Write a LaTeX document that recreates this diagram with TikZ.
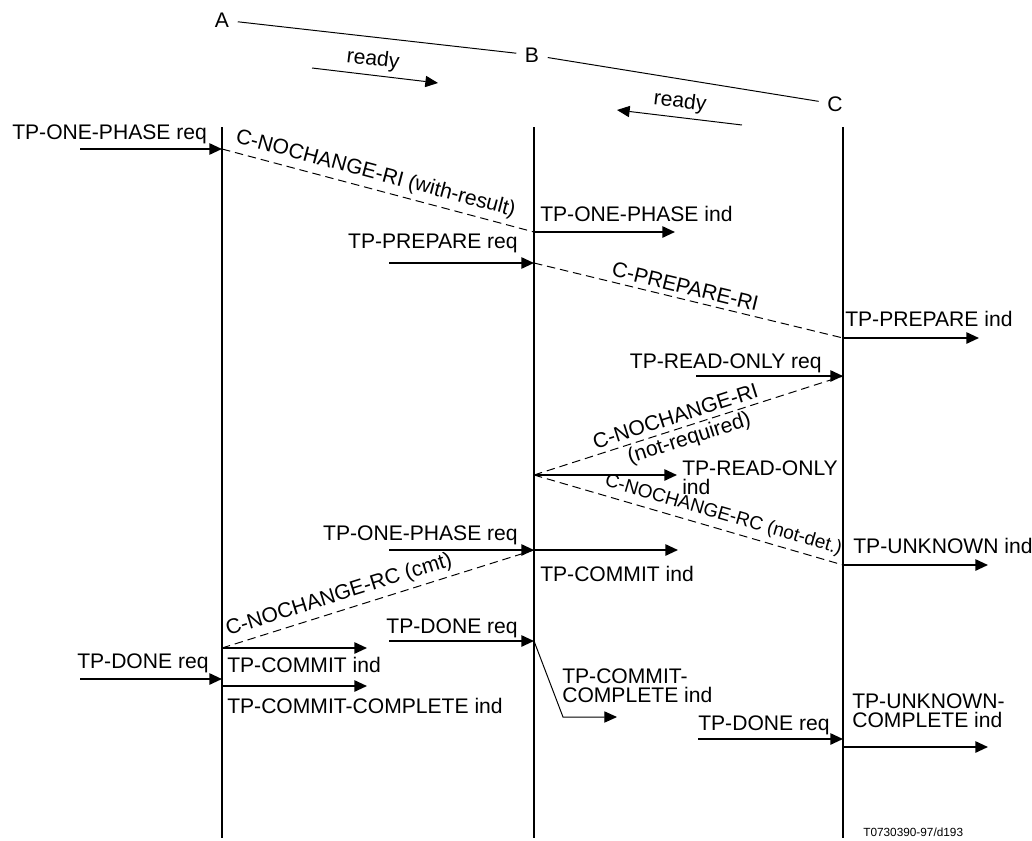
\documentclass[tikz,border=0pt]{standalone}
\usepackage{fontspec}
\setmainfont{Liberation Sans}
\usetikzlibrary{arrows.meta}

\begin{document}
\begin{tikzpicture}[
    x=0.025cm, y=-0.025cm,
    head/.style={inner sep=6pt, font=\fontsize{15}{14.2}\selectfont},
    lbl/.style={inner sep=0pt, font=\fontsize{15}{14.2}\selectfont, align=left},
    slbl/.style={inner sep=3.5pt, font=\fontsize{15}{14.2}\selectfont, sloped},
    life/.style={line width=1.4pt},
    msg/.style={-{Triangle[length=9pt, width=8pt]}, line width=1.4pt},
    thinmsg/.style={-{Triangle[length=9pt, width=8pt]}, line width=0.7pt},
    thinback/.style={{Triangle[length=9pt, width=8pt]}-, line width=0.7pt},
    dashmsg/.style={line width=0.7pt, dash pattern=on 6pt off 3.5pt},
]
    \useasboundingbox (0,0) rectangle (1032,841);

    % entities and ready indications
    \node[head] (A) at (222,20) {A};
    \node[head] (B) at (532,55) {B};
    \node[head] (C) at (835,104) {C};
    \draw[line width=0.7pt] (A) -- (B) -- (C);

    \coordinate (rdyA1) at (312,68);
    \coordinate (rdyA2) at (438,83);
    \draw[thinmsg] (rdyA1) -- node[slbl, above, pos=0.47] {ready} (rdyA2);
    \coordinate (rdyC1) at (617,110);
    \coordinate (rdyC2) at (742,125);
    \draw[thinback] (rdyC1) -- node[slbl, above, pos=0.49] {ready} (rdyC2);

    % lifelines
    \coordinate (Atop) at (222,127); \coordinate (Abot) at (222,838);
    \coordinate (Btop) at (534,127); \coordinate (Bbot) at (534,838);
    \coordinate (Ctop) at (843,127); \coordinate (Cbot) at (843,838);
    \draw[life] (Atop) -- (Abot);
    \draw[life] (Btop) -- (Bbot);
    \draw[life] (Ctop) -- (Cbot);

    % points on the lifelines
    \coordinate (a1) at (222,149); \coordinate (a2) at (222,648);
    \coordinate (a3) at (222,679); \coordinate (a4) at (222,686);
    \coordinate (b1) at (534,232); \coordinate (b2) at (534,263);
    \coordinate (b3) at (534,475); \coordinate (b4) at (534,550);
    \coordinate (b5) at (534,641);
    \coordinate (c1) at (843,338); \coordinate (c2) at (843,376);
    \coordinate (c3) at (843,565); \coordinate (c4) at (843,739);
    \coordinate (c5) at (843,747);

    % free ends of the primitives
    \coordinate (s1) at (80,149);   \coordinate (e1) at (675,232);
    \coordinate (s2) at (389,263);  \coordinate (e2) at (979,338);
    \coordinate (s3) at (696,376);  \coordinate (e3) at (677,475);
    \coordinate (e4) at (988,565);  \coordinate (s4) at (389,550);
    \coordinate (e5) at (678,550);  \coordinate (s5) at (389,641);
    \coordinate (bend) at (563,717); \coordinate (e6) at (617,717);
    \coordinate (s6) at (80,679);   \coordinate (e7) at (367,648);
    \coordinate (e8) at (367,686);  \coordinate (s7) at (698,739);
    \coordinate (e9) at (988,747);

    \node[lbl, anchor=base west] (oneReqA) at (12,139.5) {TP-ONE-PHASE req};
    \node[lbl, anchor=base west] (oneIndB) at (540,221) {TP-ONE-PHASE ind};
    \node[lbl, anchor=base east] (prepReqB) at (518,248) {TP-PREPARE req};
    \node[lbl, anchor=base west] (prepIndC) at (845,326) {TP-PREPARE ind};
    \node[lbl, anchor=base east] (roReqC) at (822,368) {TP-READ-ONLY req};
    \node[lbl, anchor=north west] (roIndB) at (682,460) {TP-READ-ONLY\\ind};
    \node[lbl, anchor=base west] (unkIndC) at (853,553) {TP-UNKNOWN ind};
    \node[lbl, anchor=base east] (oneReqB) at (518,540) {TP-ONE-PHASE req};
    \node[lbl, anchor=base west] (cmtIndB) at (540,581) {TP-COMMIT ind};
    \node[lbl, anchor=base east] (doneReqB) at (518,633) {TP-DONE req};
    \node[lbl, anchor=north west] (cmplIndB) at (562,668) {TP-COMMIT-\\COMPLETE ind};
    \node[lbl, anchor=base west] (doneReqA) at (77,668) {TP-DONE req};
    \node[lbl, anchor=base west] (cmtIndA) at (227,672) {TP-COMMIT ind};
    \node[lbl, anchor=base west] (cmplIndA) at (227,713) {TP-COMMIT-COMPLETE ind};
    \node[lbl, anchor=base west] (doneReqC) at (698,730) {TP-DONE req};
    \node[lbl, anchor=north west] (unkCmplC) at (852,693) {TP-UNKNOWN-\\COMPLETE ind};
    \node[inner sep=0pt, anchor=base west, font=\fontsize{8.4}{10}\selectfont] (fig) at (863,836) {T0730390-97/d193};

    % primitives
    \draw[msg] (s1) -- (a1);
    \draw[msg] (b1) -- (e1);
    \draw[msg] (s2) -- (b2);
    \draw[msg] (c1) -- (e2);
    \draw[msg] (s3) -- (c2);
    \draw[msg] (b3) -- (e3);
    \draw[msg] (c3) -- (e4);
    \draw[msg] (s4) -- (b4);
    \draw[msg] (b4) -- (e5);
    \draw[msg] (s5) -- (b5);
    \draw[thinmsg] (b5) -- (bend) -- (e6);
    \draw[msg] (s6) -- (a3);
    \draw[msg] (a2) -- (e7);
    \draw[msg] (a4) -- (e8);
    \draw[msg] (s7) -- (c4);
    \draw[msg] (c5) -- (e9);

    % protocol messages
    \draw[dashmsg] (a1) -- node[slbl, above, pos=0.48] {C-NOCHANGE-RI (with-result)} (b1);
    \draw[dashmsg] (b2) -- node[slbl, above, pos=0.48] {C-PREPARE-RI} (c1);
    \draw[dashmsg] (b3) -- node[slbl, above, pos=0.47] {C-NOCHANGE-RI}
                          node[slbl, below, pos=0.49, inner sep=2pt] {(not-required)} (c2);
    \draw[dashmsg] (b3) -- node[slbl, above, pos=0.6, font=\fontsize{13.5}{14}\selectfont] {C-NOCHANGE-RC (not-det.)} (c3);
    \draw[dashmsg] (a2) -- node[slbl, above, pos=0.39] {C-NOCHANGE-RC (cmt)} (b4);
\end{tikzpicture}
\end{document}
